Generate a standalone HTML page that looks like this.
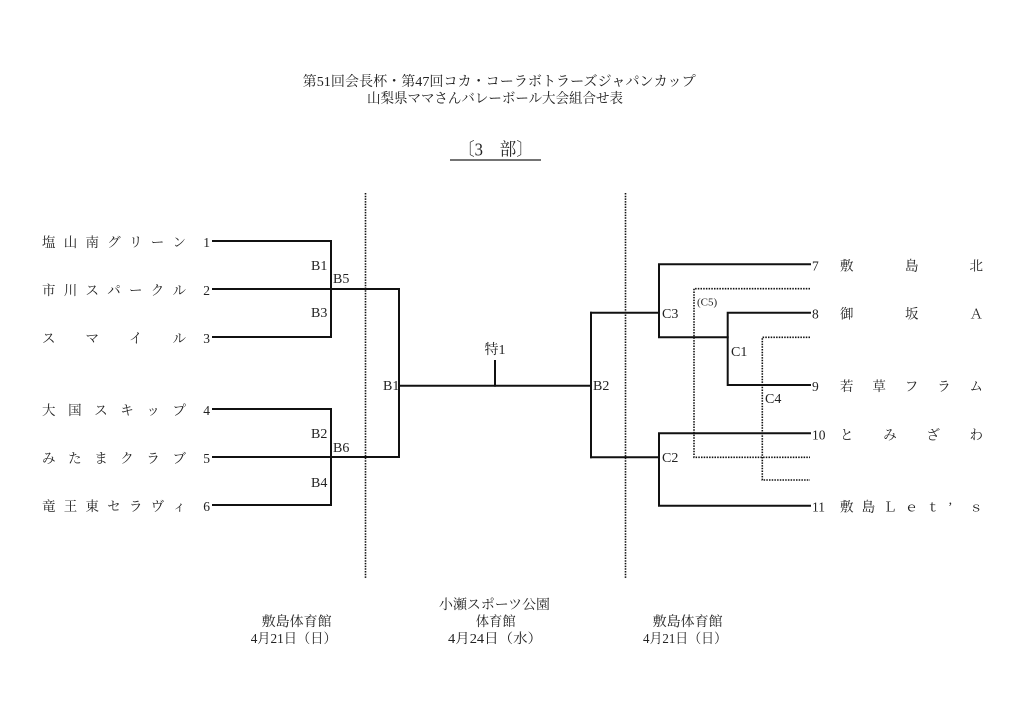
<!DOCTYPE html>
<html><head><meta charset="utf-8"><style>
html,body{margin:0;padding:0;background:#fff;}
svg{display:block;}
text{font-family:"Liberation Serif","Noto Serif CJK SC",serif;fill:#222;}
</style></head><body>
<svg width="1024" height="724" viewBox="0 0 1024 724" xmlns="http://www.w3.org/2000/svg">
<line x1="450" y1="160" x2="541" y2="160" stroke="#222" stroke-width="1.3"/>

<!-- dotted dividers -->
<g stroke="#111" stroke-width="1.6" stroke-dasharray="1.5 1.2" fill="none">
<line x1="365.5" y1="193" x2="365.5" y2="578"/>
<line x1="625.5" y1="193" x2="625.5" y2="578"/>
<polyline points="810,288.7 694,288.7 694,457.3 810,457.3"/>
<polyline points="810,337.3 762.3,337.3 762.3,480 810,480"/>
</g>

<!-- solid bracket lines -->
<g stroke="#111" stroke-width="2" fill="none" stroke-linecap="square">
<polyline points="213,241 331,241 331,337 213,337"/>
<line x1="213" y1="289" x2="399" y2="289"/>
<polyline points="213,409 331,409 331,505 213,505"/>
<line x1="213" y1="457" x2="399" y2="457"/>
<line x1="399" y1="289" x2="399" y2="457"/>
<line x1="399" y1="385.7" x2="591" y2="385.7"/>
<line x1="495" y1="361" x2="495" y2="385.7"/>
<line x1="591" y1="312.7" x2="591" y2="457.3"/>
<line x1="591" y1="312.7" x2="659" y2="312.7"/>
<line x1="591" y1="457.3" x2="659" y2="457.3"/>
<polyline points="810,264.3 659,264.3 659,337.3 727.7,337.3"/>
<polyline points="810,312.7 727.7,312.7 727.7,385 810,385"/>
<polyline points="810,433.3 659,433.3 659,505.7 810,505.7"/>
</g>

<g transform="translate(0,1.5)">
<!-- titles -->
<text x="302.7" y="81" font-size="14" dominant-baseline="central" textLength="393" lengthAdjust="spacingAndGlyphs">第51回会長杯・第47回コカ・コーラボトラーズジャパンカップ</text>
<text x="367" y="98" font-size="14" dominant-baseline="central" textLength="256" lengthAdjust="spacingAndGlyphs">山梨県ママさんバレーボール大会組合せ表</text>
<text x="458" y="148" font-size="18" dominant-baseline="central" textLength="75" lengthAdjust="spacingAndGlyphs">〔3　部〕</text>

<!-- left names -->
<g font-size="13.5" dominant-baseline="central">
<g transform="translate(0,241)">
<text x="42" y="0">塩</text><text x="63.75" y="0">山</text><text x="85.5" y="0">南</text><text x="107.25" y="0">グ</text><text x="129" y="0">リ</text><text x="150.75" y="0">ー</text><text x="172.5" y="0">ン</text>
</g>
<g transform="translate(0,289)">
<text x="42" y="0">市</text><text x="63.75" y="0">川</text><text x="85.5" y="0">ス</text><text x="107.25" y="0">パ</text><text x="129" y="0">ー</text><text x="150.75" y="0">ク</text><text x="172.5" y="0">ル</text>
</g>
<g transform="translate(0,337)">
<text x="42" y="0">ス</text><text x="85.5" y="0">マ</text><text x="129" y="0">イ</text><text x="172.5" y="0">ル</text>
</g>
<g transform="translate(0,409)">
<text x="42" y="0">大</text><text x="68.1" y="0">国</text><text x="94.2" y="0">ス</text><text x="120.3" y="0">キ</text><text x="146.4" y="0">ッ</text><text x="172.5" y="0">プ</text>
</g>
<g transform="translate(0,457)">
<text x="42" y="0">み</text><text x="68.1" y="0">た</text><text x="94.2" y="0">ま</text><text x="120.3" y="0">ク</text><text x="146.4" y="0">ラ</text><text x="172.5" y="0">ブ</text>
</g>
<g transform="translate(0,505)">
<text x="42" y="0">竜</text><text x="63.75" y="0">王</text><text x="85.5" y="0">東</text><text x="107.25" y="0">セ</text><text x="129" y="0">ラ</text><text x="150.75" y="0">ヴ</text><text x="172.5" y="0">ィ</text>
</g>
</g>

<!-- left numbers -->
<g font-size="13.5" dominant-baseline="central" text-anchor="end">
<text x="210" y="241">1</text><text x="210" y="289">2</text><text x="210" y="337">3</text>
<text x="210" y="409">4</text><text x="210" y="457">5</text><text x="210" y="505">6</text>
</g>

<!-- right numbers -->
<g font-size="13.5" dominant-baseline="central">
<text x="812" y="264.3">7</text><text x="812" y="312.7">8</text><text x="812" y="385">9</text>
<text x="812" y="433.3">10</text><text x="812" y="505.7">11</text>
</g>

<!-- right names -->
<g font-size="13.5" dominant-baseline="central">
<g transform="translate(0,264.3)">
<text x="840" y="0">敷</text><text x="905" y="0">島</text><text x="969.5" y="0">北</text>
</g>
<g transform="translate(0,312.7)">
<text x="840" y="0">御</text><text x="905" y="0">坂</text><text x="969.5" y="0">Ａ</text>
</g>
<g transform="translate(0,385)">
<text x="840" y="0">若</text><text x="872.4" y="0">草</text><text x="904.8" y="0">フ</text><text x="937.2" y="0">ラ</text><text x="969.5" y="0">ム</text>
</g>
<g transform="translate(0,433.3)">
<text x="840" y="0">と</text><text x="883.2" y="0">み</text><text x="926.4" y="0">ざ</text><text x="969.5" y="0">わ</text>
</g>
<g transform="translate(0,505.7)">
<text x="840" y="0">敷</text><text x="861.6" y="0">島</text><text x="883.2" y="0">Ｌ</text><text x="904.8" y="0">ｅ</text><text x="926.4" y="0">ｔ</text><text x="948" y="0">’</text><text x="969.5" y="0">ｓ</text>
</g>
</g>

<!-- match labels -->
<g font-size="14" dominant-baseline="central">
<text x="311" y="265">B1</text>
<text x="333" y="278">B5</text>
<text x="311" y="312">B3</text>
<text x="311" y="433">B2</text>
<text x="333" y="447">B6</text>
<text x="311" y="482">B4</text>
<text x="383" y="385">B1</text>
<text x="593" y="385">B2</text>
<text x="495" y="349" text-anchor="middle">特1</text>
<text x="662" y="313">C3</text>
<text x="731" y="351">C1</text>
<text x="662" y="457">C2</text>
<text x="765" y="398">C4</text>
<text x="697" y="301" font-size="11">(C5)</text>
</g>

<!-- venues -->
<g font-size="13.5" dominant-baseline="central">
<text x="439" y="603" textLength="111" lengthAdjust="spacingAndGlyphs">小瀬スポーツ公園</text>
<text x="475.7" y="620" textLength="40" lengthAdjust="spacingAndGlyphs">体育館</text>
<text x="448" y="637" textLength="94" lengthAdjust="spacingAndGlyphs">4月24日（水）</text>
<text x="261.7" y="620" textLength="70" lengthAdjust="spacingAndGlyphs">敷島体育館</text>
<text x="250.7" y="637" textLength="86" lengthAdjust="spacingAndGlyphs">4月21日（日）</text>
<text x="652.7" y="620" textLength="70" lengthAdjust="spacingAndGlyphs">敷島体育館</text>
<text x="643" y="637" textLength="84" lengthAdjust="spacingAndGlyphs">4月21日（日）</text>
</g>
</g>
</svg>
</body></html>
